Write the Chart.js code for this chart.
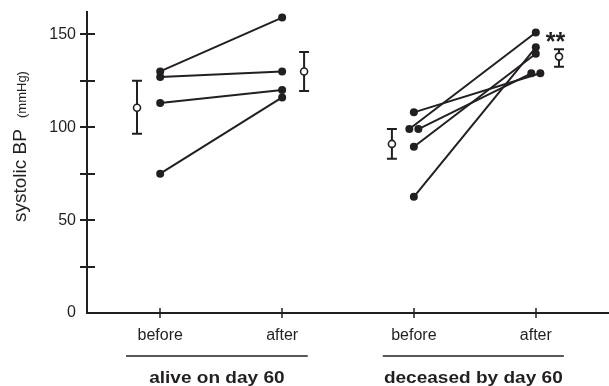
<!DOCTYPE html>
<html><head><meta charset="utf-8">
<script src="https://cdn.jsdelivr.net/npm/chart.js@4/dist/chart.umd.min.js"></script>
<style>html,body{margin:0;padding:0;background:#fff}canvas{display:block}</style>
</head><body>
<canvas id="c" width="609" height="386"></canvas>
<script>
// ---- data ----
const groupNames = ['alive on day 60', 'deceased by day 60'];
const xTickLabels = ['before', 'after', 'before', 'after'];
const xTickPositions = [1, 2, 3.08, 4.08];
const yTickValues = [0, 25, 50, 75, 100, 125, 150];
const yTickLabels = ['0', '', '50', '', '100', '', '150'];
const yTitleMain = 'systolic BP';
const yTitleUnit = '(mmHg)';

const aliveBefore = [130, 127, 113, 75];
const aliveAfter = [159, 130, 120, 116];
const deceasedBefore = [108, 99, 99, 89.5, 62.5];
const deceasedAfter = [129, 151, 129, 139.5, 143];
const deceasedBeforeDodge = [0, -1, 1, 0, 0];
const deceasedAfterDodge = [1, 0, -1, 0, 0];

const meanPositions = [0.81, 2.18, 2.90, 4.27];
const meanValues = [110.5, 130, 91, 138];
const errLow = [96.5, 119.5, 83, 132.5];
const errHigh = [125, 140.5, 99, 142];
const significance = ['', '', '', '**'];

// ---- styling ----
const INK = '#231f20';
const FONT = "'Liberation Sans', Arial, sans-serif";
const DODGE = 0.037;

const datasets = [];
aliveBefore.forEach((v, i) => {
  datasets.push({ data: [{x: xTickPositions[0], y: v}, {x: xTickPositions[1], y: aliveAfter[i]}] });
});
deceasedBefore.forEach((v, i) => {
  datasets.push({ data: [
    {x: xTickPositions[2] + deceasedBeforeDodge[i] * DODGE, y: v},
    {x: xTickPositions[3] + deceasedAfterDodge[i] * DODGE, y: deceasedAfter[i]}] });
});
datasets.forEach(d => Object.assign(d, {
  showLine: true, borderColor: INK, borderWidth: 2,
  pointRadius: 4, pointBackgroundColor: INK, pointBorderColor: INK, pointBorderWidth: 0
}));
datasets.push({
  data: meanPositions.map((x, i) => ({x, y: meanValues[i]})),
  showLine: false, pointRadius: 3.5, pointBackgroundColor: '#fff',
  pointBorderColor: INK, pointBorderWidth: 1.6
});

const decor = {
  id: 'decor',
  beforeDatasetsDraw(chart) {
    const {ctx, scales: {x, y}, chartArea} = chart;
    ctx.save();
    ctx.strokeStyle = INK;
    ctx.lineWidth = 2;
    yTickValues.forEach(v => {
      if (v === 0) return;
      const py = Math.round(y.getPixelForValue(v));
      ctx.beginPath(); ctx.moveTo(chartArea.left - 7, py); ctx.lineTo(chartArea.left + 8, py); ctx.stroke();
    });
    ctx.lineWidth = 1.5;
    xTickPositions.forEach(v => {
      const px = Math.round(x.getPixelForValue(v));
      ctx.beginPath(); ctx.moveTo(px, chartArea.bottom - 5); ctx.lineTo(px, chartArea.bottom + 5); ctx.stroke();
    });
    ctx.lineWidth = 2;
    meanPositions.forEach((mx, i) => {
      const px = x.getPixelForValue(mx);
      const lo = y.getPixelForValue(errLow[i]);
      const hi = y.getPixelForValue(errHigh[i]);
      ctx.beginPath();
      ctx.moveTo(px, lo); ctx.lineTo(px, hi);
      ctx.moveTo(px - 5, lo); ctx.lineTo(px + 5, lo);
      ctx.moveTo(px - 5, hi); ctx.lineTo(px + 5, hi);
      ctx.stroke();
    });
    ctx.restore();
  },
  afterDraw(chart) {
    const {ctx, scales: {x, y}} = chart;
    ctx.save();
    ctx.fillStyle = INK; ctx.strokeStyle = INK;
    ctx.font = 'bold 25px ' + FONT;
    ctx.textAlign = 'center'; ctx.textBaseline = 'alphabetic';
    significance.forEach((s, i) => {
      if (!s) return;
      ctx.fillText(s, x.getPixelForValue(meanPositions[i]) - 3.5, y.getPixelForValue(errHigh[i]) + 1);
    });
    const spans = [[xTickPositions[0] - 0.28, xTickPositions[1] + 0.21], [xTickPositions[2] - 0.255, xTickPositions[3] + 0.23]];
    ctx.lineWidth = 1.5;
    spans.forEach((sp, i) => {
      const a = x.getPixelForValue(sp[0]), b = x.getPixelForValue(sp[1]);
      ctx.beginPath(); ctx.moveTo(a, 356); ctx.lineTo(b, 356); ctx.stroke();
      ctx.save();
      ctx.translate((a + b) / 2, 383);
      ctx.scale(1.12, 1);
      ctx.font = 'bold 17px ' + FONT;
      ctx.textAlign = 'center';
      ctx.fillText(groupNames[i], 0, 0);
      ctx.restore();
    });
    ctx.save();
    ctx.translate(26, 222);
    ctx.rotate(-Math.PI / 2);
    ctx.textAlign = 'left';
    ctx.font = '19px ' + FONT;
    ctx.fillText(yTitleMain, 0, 0);
    ctx.font = '13px ' + FONT;
    ctx.fillText(yTitleUnit, 104, 0);
    ctx.restore();
    ctx.restore();
  }
};

new Chart(document.getElementById('c'), {
  type: 'scatter',
  data: { datasets },
  options: {
    responsive: false, animation: false,
    layout: { autoPadding: false, padding: { top: 12, right: 0, left: 0, bottom: 0 } },
    plugins: { legend: { display: false }, tooltip: { enabled: false } },
    scales: {
      x: {
        type: 'linear', min: 0.4, max: 4.68,
        afterFit(s) { s.height = 73; s.paddingLeft = 0; s.paddingRight = 0; },
        afterBuildTicks(s) { s.ticks = xTickPositions.map(v => ({ value: v })); },
        ticks: {
          callback: (v, i) => xTickLabels[i], autoSkip: false, maxRotation: 0,
          font: { family: FONT, size: 16 }, color: INK, padding: 13
        },
        grid: { display: false, drawTicks: false },
        border: { color: INK, width: 2 }
      },
      y: {
        type: 'linear', min: 0, max: 162,
        afterFit(s) { s.width = 87; s.paddingTop = 0; s.paddingBottom = 0; },
        afterBuildTicks(s) { s.ticks = yTickValues.map(v => ({ value: v })); },
        ticks: {
          callback: (v, i) => yTickLabels[i], autoSkip: false,
          font: { family: FONT, size: 16 }, color: INK, padding: 11
        },
        grid: { display: false, drawTicks: false },
        border: { color: INK, width: 2 }
      }
    }
  },
  plugins: [decor]
});
</script>
</body></html>
